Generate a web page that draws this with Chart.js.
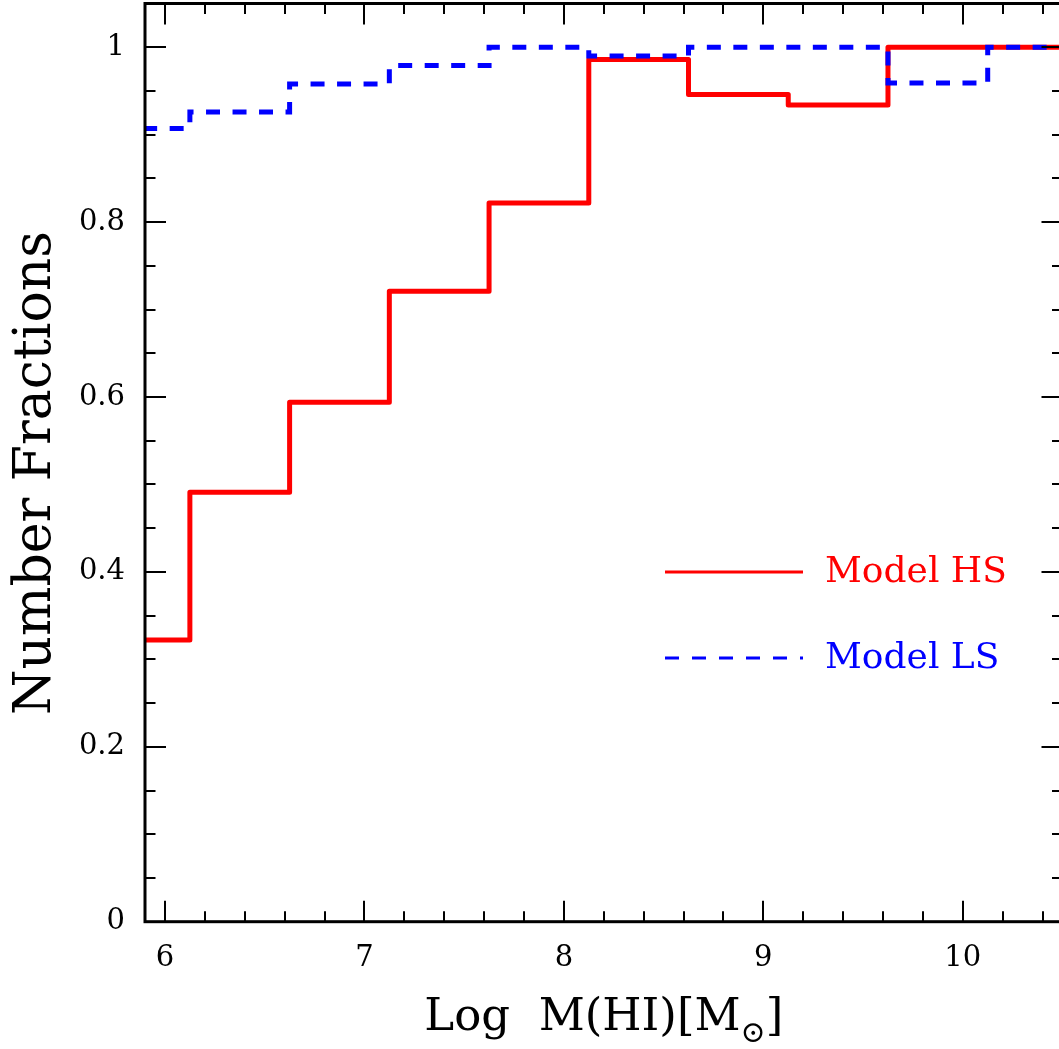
<!DOCTYPE html>
<html>
<head>
<meta charset="utf-8">
<script src="https://cdn.jsdelivr.net/npm/chart.js@4/dist/chart.umd.min.js"></script>
<style>
html,body{margin:0;padding:0;background:#fff;overflow:hidden;}
#clip{width:1059px;height:1049px;overflow:hidden;position:relative;}
#wrap{position:absolute;left:0;top:0;width:1072px;height:1049px;}
</style>
</head>
<body>
<div id="clip"><div id="wrap"><canvas id="c" width="1072" height="1049"></canvas></div></div>
<script>
// ---- data ----
const xEdges = [5.625, 6.125, 6.625, 7.125, 7.625, 8.125, 8.625, 9.125, 9.625, 10.125, 10.625];
const hsFractions = [0.322, 0.491, 0.594, 0.721, 0.822, 0.986, 0.946, 0.934, 1.0, 1.0];
const lsFractions = [0.907, 0.926, 0.958, 0.979, 1.0, 0.990, 1.0, 1.0, 0.959, 1.0];
const seriesNames = ['Model HS', 'Model LS'];
const seriesColors = ['#ff0000', '#0000ff'];
const xMajorTicks = [6, 7, 8, 9, 10];
const xMinorTicks = [6.2, 6.4, 6.6, 6.8, 7.2, 7.4, 7.6, 7.8, 8.2, 8.4, 8.6, 8.8, 9.2, 9.4, 9.6, 9.8, 10.2, 10.4];
const yMajorTicks = [0, 0.2, 0.4, 0.6, 0.8, 1];
const yMinorTicks = [0.05, 0.1, 0.15, 0.25, 0.3, 0.35, 0.45, 0.5, 0.55, 0.65, 0.7, 0.75, 0.85, 0.9, 0.95];
const xTitleMain = 'Log  M(HI)[M';
const xTitleSub = '\u2299';
const xTitleEnd = ']';
const yTitle = 'Number Fractions';

function stepPoints(values) {
  return xEdges.map((x, i) => ({x: x, y: values[Math.min(i, values.length - 1)]}));
}

const FONT = "'DejaVu Serif', 'Liberation Serif', serif";

const framePlugin = {
  id: 'frame',
  afterDatasetsDraw(chart) {
    const ctx = chart.ctx, ca = chart.chartArea;
    const xs = chart.scales.x, ys = chart.scales.y;
    ctx.save();
    ctx.strokeStyle = '#000';
    ctx.lineCap = 'butt';
    ctx.lineWidth = 2;
    const majL = 21, minL = 10.5;
    const tickX = (v, len) => {
      const p = Math.round(xs.getPixelForValue(v));
      ctx.beginPath();
      ctx.moveTo(p, ca.bottom); ctx.lineTo(p, ca.bottom - len);
      ctx.moveTo(p, ca.top); ctx.lineTo(p, ca.top + len);
      ctx.stroke();
    };
    const tickY = (v, len) => {
      const p = Math.round(ys.getPixelForValue(v));
      ctx.beginPath();
      ctx.moveTo(ca.left, p); ctx.lineTo(ca.left + len, p);
      ctx.moveTo(ca.right, p); ctx.lineTo(ca.right - len, p);
      ctx.stroke();
    };
    xMajorTicks.forEach(v => tickX(v, majL));
    xMinorTicks.forEach(v => tickX(v, minL));
    yMajorTicks.forEach(v => tickY(v, majL));
    yMinorTicks.forEach(v => tickY(v, minL));
    ctx.lineWidth = 3;
    ctx.strokeRect(ca.left, ca.top, ca.right - ca.left, ca.bottom - ca.top);

    // legend
    const legY = [572, 658];
    const legX0 = 665, legX1 = 803, legTextX = 825;
    chart.data.datasets.forEach((ds, i) => {
      ctx.beginPath();
      ctx.strokeStyle = ds.borderColor;
      ctx.lineWidth = 3;
      ctx.setLineDash(ds.borderDash && ds.borderDash.length ? [14, 13] : []);
      ctx.moveTo(legX0, legY[i]); ctx.lineTo(legX1, legY[i]);
      ctx.stroke();
      ctx.setLineDash([]);
      ctx.fillStyle = ds.borderColor;
      ctx.font = "36px " + FONT;
      ctx.textAlign = 'left';
      ctx.textBaseline = 'alphabetic';
      ctx.fillText(ds.label, legTextX, legY[i] + 10);
    });

    // x title
    ctx.fillStyle = '#000';
    ctx.textBaseline = 'alphabetic';
    ctx.textAlign = 'left';
    const mainFont = "45px " + FONT, subFont = "30px " + FONT;
    ctx.font = mainFont;
    const w1 = ctx.measureText(xTitleMain).width;
    const w3 = ctx.measureText(xTitleEnd).width;
    ctx.font = subFont;
    const w2 = ctx.measureText(xTitleSub).width;
    const total = w1 + w2 + w3;
    const cx = (ca.left + ca.right) / 2;
    let x = cx - total / 2;
    const base = 1030;
    ctx.font = mainFont; ctx.fillText(xTitleMain, x, base); x += w1;
    ctx.font = subFont; ctx.fillText(xTitleSub, x, base + 12); x += w2;
    ctx.font = mainFont; ctx.fillText(xTitleEnd, x, base);

    // y title
    ctx.save();
    ctx.translate(50, 473);
    ctx.rotate(-Math.PI / 2);
    ctx.font = "52px " + FONT;
    ctx.textAlign = 'center';
    ctx.textBaseline = 'alphabetic';
    ctx.fillText(yTitle, 0, 0);
    ctx.restore();
    ctx.restore();
  }
};

new Chart(document.getElementById('c'), {
  type: 'line',
  data: {
    datasets: [
      {
        label: seriesNames[0],
        data: stepPoints(hsFractions),
        borderColor: seriesColors[0],
        borderWidth: 5,
        stepped: 'before',
        pointRadius: 0,
        fill: false,
        borderJoinStyle: 'round',
        order: 1
      },
      {
        label: seriesNames[1],
        data: stepPoints(lsFractions),
        borderColor: seriesColors[1],
        borderWidth: 5,
        borderDash: [14, 12.5],
        stepped: 'before',
        pointRadius: 0,
        fill: false,
        order: 0
      }
    ]
  },
  options: {
    responsive: false,
    animation: false,
    devicePixelRatio: 1,
    layout: {padding: {left: 0, top: 3.5, right: 9.5, bottom: 0}},
    plugins: {legend: {display: false}, tooltip: {enabled: false}, title: {display: false}},
    scales: {
      x: {
        type: 'linear',
        position: 'bottom',
        min: 5.9,
        max: 10.5,
        grid: {display: false, drawTicks: false},
        border: {display: false},
        afterBuildTicks: s => { s.ticks = xMajorTicks.map(v => ({value: v})); },
        afterFit: s => { s.height = 127.3; s.paddingLeft = 0; s.paddingRight = 0; },
        ticks: {
          color: '#000',
          font: {family: FONT, size: 29},
          padding: 19,
          maxRotation: 0,
          autoSkip: false,
          callback: v => String(v)
        }
      },
      y: {
        type: 'linear',
        position: 'left',
        min: 0,
        max: 1.05,
        grid: {display: false, drawTicks: false},
        border: {display: false},
        afterBuildTicks: s => { s.ticks = yMajorTicks.map(v => ({value: v})); },
        afterFit: s => { s.width = 145; s.paddingTop = 0; s.paddingBottom = 0; },
        ticks: {
          color: '#000',
          font: {family: FONT, size: 29},
          padding: 20,
          autoSkip: false,
          callback: v => String(v)
        }
      }
    }
  },
  plugins: [framePlugin]
});
</script>
</body>
</html>
